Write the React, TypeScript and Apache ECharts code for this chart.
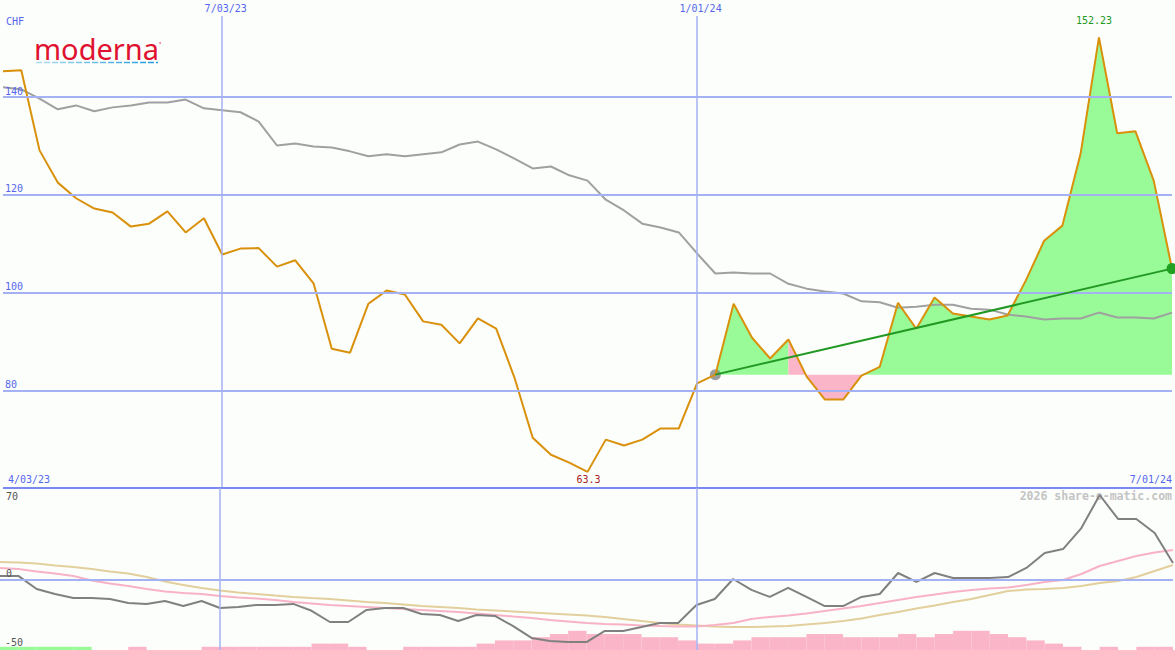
import React, { useEffect, useRef } from "react";
import * as echarts from "echarts";

// ---------- data (weekly points, index 0..64) ----------
const startDate = "4/03/23";
const endDate = "7/01/24";
const dateTickIndex = [12, 38];
const dateTickLabels = ["7/03/23", "1/01/24"];
const priceTicks = [80, 100, 120, 140];
const currency = "CHF";
const trendStart = 39;

const closes = [
  145.3, 145.5, 129.1, 122.5, 119.3, 117.2, 116.4, 113.5, 114.1, 116.6,
  112.3, 115.2, 107.8, 109.0, 109.1, 105.3, 106.6, 101.9, 88.5, 87.7,
  97.7, 100.4, 99.6, 94.1, 93.4, 89.6, 94.7, 92.6, 82.6, 70.3,
  66.8, 65.2, 63.3, 69.9, 68.7, 69.9, 72.2, 72.2, 81.4, 83.2,
  97.7, 90.8, 86.5, 90.4, 82.8, 78.1, 78.1, 83.0, 84.8, 97.9,
  92.6, 99.0, 95.7, 95.1, 94.5, 95.3, 102.5, 110.6, 113.7, 128.5,
  152.23, 132.6, 133.0, 122.9, 104.9,
];

const benchmark = [
  142.0, 141.6, 139.7, 137.5, 138.3, 137.1, 137.9, 138.3, 138.9, 138.9,
  139.5, 137.7, 137.3, 136.9, 135.0, 130.1, 130.5, 129.9, 129.7, 128.9,
  127.9, 128.3, 127.9, 128.3, 128.7, 130.3, 130.9, 129.3, 127.4, 125.4,
  125.8, 124.0, 122.9, 119.0, 116.8, 114.1, 113.3, 112.3, 108.0, 103.9,
  104.1, 103.9, 103.9, 101.8, 100.8, 100.2, 99.8, 98.2, 98.0, 96.9,
  97.1, 97.5, 97.5, 96.7, 96.5, 95.5, 95.1, 94.5, 94.7, 94.7,
  95.9, 94.9, 94.9, 94.7, 95.9,
];

const oscillator = [
  2.9, 2.9, -6.4, -10, -12.9, -12.9, -13.6, -16.4, -17.1, -15,
  -18.6, -15, -20, -19.3, -17.9, -17.9, -17.1, -22, -30, -30,
  -21.4, -20, -20, -24.3, -25, -29.3, -25, -25.7, -32.9, -41.4,
  -43.6, -44.3, -44.3, -36.4, -36.4, -33.6, -30.7, -30.7, -17.9, -13.6,
  0.7, -7.1, -12.1, -5.7, -12.1, -18.6, -18.6, -12.1, -10, 5,
  -1.4, 5, 1.4, 1.4, 1.4, 2.1, 8.6, 19.3, 22.1, 37.1,
  60.7, 43.6, 43.6, 33.6, 12.1,
];

const oscFast = [
  8.6, 7.9, 6.1, 4.6, 2.9, -0.4, -2.5, -4.3, -6.4, -8.2,
  -9.3, -10, -11.4, -12.5, -13.2, -14.3, -15.7, -16.8, -17.9, -18.6,
  -19.3, -20, -20.7, -21.4, -22.1, -22.9, -23.9, -25, -26.1, -27.1,
  -28.6, -29.6, -30.7, -31.4, -31.8, -32.5, -32.9, -33.2, -33.2, -32.1,
  -30.7, -27.9, -26.4, -25.4, -23.9, -22.1, -20.4, -18.6, -16.4, -14.3,
  -12.1, -10.4, -8.6, -7.1, -6.1, -5.4, -3.6, -1.4, 0, 4.3,
  10, 13.6, 17.1, 19.6, 21.4,
];

const oscSlow = [
  12.9, 12.5, 11.8, 10.4, 9.3, 7.9, 6.1, 4.6, 2.1, -1.1,
  -3.6, -5.7, -7.5, -8.9, -10, -11.1, -12.1, -12.9, -13.6, -14.6,
  -15.7, -16.4, -17.5, -18.6, -19.3, -20, -21.1, -21.8, -22.5, -23.2,
  -23.9, -24.6, -25.4, -26.4, -27.9, -29.3, -30.7, -31.8, -32.5, -33.2,
  -33.6, -33.6, -33.2, -32.9, -31.8, -30.7, -29.3, -27.5, -25, -22.9,
  -20.4, -18.2, -15.7, -13.6, -10.7, -7.9, -6.8, -6.4, -5.7, -4.3,
  -2.1, -0.7, 2.1, 6.4, 10.7,
];

const volumeLevel = [
  1, 1, 1, 1, 1, 0, 0, 1, 0, 0,
  0, 1, 1, 1, 1, 1, 1, 2, 2, 1,
  0, 0, 1, 1, 1, 1, 2, 3, 3, 4,
  5, 6, 5, 5, 5, 4, 4, 3, 2, 2,
  3, 4, 4, 4, 5, 5, 4, 4, 4, 5,
  4, 5, 6, 6, 5, 4, 3, 2, 1, 0,
  1, 0, 1, 1, 0,
];
const volumeUp = [1, 1, 1, 1, 1];

const oscTickLabels = ["70", "-50"];
const watermark = "2026 share-o-matic.com";
const logoText = "moderna";

// ---------- styling ----------
const FONT = '"DejaVu Sans Mono", monospace';
const BLUE_TXT = "#5566ee";
const GRIDC = "#a4b2f4";
const BORDER = "#7a8af0";
const GREEN_FILL = "#98fb98";
const PINK_FILL = "#fab5c8";

export default function App() {
  const ref = useRef<HTMLDivElement>(null);

  useEffect(() => {
    if (!ref.current) return;
    const chart = echarts.init(ref.current, undefined, { renderer: "svg" });
    const last = closes.length - 1;
    const base = closes[trendStart];
    const segUp = (j: number) => closes[j] >= base;
    const greenData = closes.map((v, i) => {
      if (i < trendStart) return [i, null];
      const on = (i > trendStart && segUp(i)) || (i < last && segUp(i + 1));
      return on ? [i, v] : [i, null];
    });
    const pinkData = closes.map((v, i) => {
      if (i < trendStart) return [i, null];
      const on = (i > trendStart && !segUp(i)) || (i < last && !segUp(i + 1));
      return on ? [i, v] : [i, null];
    });
    const xy = (arr: number[]) => arr.map((v, i) => [i, v]);

    const txt = (text: string, x: number, y: number, fill: string, align = "left", extra: any = {}) => ({
      type: "text",
      x,
      y,
      silent: true,
      style: { text, fill, fontFamily: FONT, fontSize: 10, align, verticalAlign: "middle", ...extra },
    });

    const option: any = {
      animation: false,
      backgroundColor: "#fcfefc",
      grid: [
        { left: 0, right: 2, top: 16, height: 472 },
        { left: 0, right: 2, top: 488, height: 162 },
        { left: 0, right: 2, top: 618, height: 32 },
      ],
      xAxis: [
        {
          gridIndex: 0,
          type: "value",
          min: 0,
          max: last,
          interval: 1,
          position: "top",
          axisLine: { show: false },
          axisTick: { show: false },
          splitLine: { show: false },
          axisLabel: {
            formatter: (v: number) => {
              const k = dateTickIndex.indexOf(v);
              return k >= 0 ? dateTickLabels[k] : "";
            },
            color: BLUE_TXT,
            fontFamily: FONT,
            fontSize: 10,
            margin: 3,
            padding: [0, 0, 0, 7],
          },
        },
        { gridIndex: 1, type: "value", min: 0, max: last, show: false },
        { gridIndex: 2, type: "value", min: 0, max: last, show: false },
      ],
      yAxis: [
        { gridIndex: 0, type: "value", min: 60, max: 156.6, show: false },
        { gridIndex: 1, type: "value", min: -50, max: 65.7, show: false },
        { gridIndex: 2, type: "value", min: 0, max: 10, show: false },
      ],
      series: [
        // main grid lines
        {
          type: "line",
          xAxisIndex: 0,
          yAxisIndex: 0,
          data: xy(closes),
          symbol: "none",
          lineStyle: { opacity: 0 },
          z: 1,
          silent: true,
          markLine: {
            silent: true,
            symbol: ["none", "none"],
            data: [
              ...priceTicks.map((v) => ({ yAxis: v })),
              ...dateTickIndex.map((i) => ({ xAxis: i, lineStyle: { width: 1.5 }, label: { show: false } })),
              { yAxis: 60, lineStyle: { color: BORDER, width: 2 }, label: { show: false } },
            ],
            lineStyle: { color: GRIDC, width: 2, type: "solid" },
            label: {
              position: "insideStartTop",
              formatter: "{c}",
              color: BLUE_TXT,
              fontFamily: FONT,
              fontSize: 10,
              distance: [2, 1],
            },
          },
        },
        // lower grid lines
        {
          type: "line",
          xAxisIndex: 1,
          yAxisIndex: 1,
          data: xy(oscillator),
          symbol: "none",
          lineStyle: { opacity: 0 },
          z: 1,
          silent: true,
          markLine: {
            silent: true,
            symbol: ["none", "none"],
            data: [
              { yAxis: 0 },
              ...dateTickIndex.map((i) => ({ xAxis: i, lineStyle: { width: 1.5 }, label: { show: false } })),
            ],
            lineStyle: { color: GRIDC, width: 2, type: "solid" },
            label: {
              position: "insideStartTop",
              formatter: "{c}",
              color: "#555555",
              fontFamily: FONT,
              fontSize: 10,
              distance: [6, 1],
            },
          },
        },
        // volume bars
        {
          type: "custom",
          xAxisIndex: 2,
          yAxisIndex: 2,
          z: 2,
          silent: true,
          data: volumeLevel.map((v, i) => [i, v, volumeUp[i] ? 1 : 0]),
          renderItem: (params: any, api: any) => {
            const i = api.value(0);
            const h = api.value(1);
            if (!h) return null;
            const p0 = api.coord([i, h]);
            const p1 = api.coord([i + 1, 0]);
            return {
              type: "rect",
              shape: { x: p0[0], y: p0[1], width: p1[0] - p0[0], height: p1[1] - p0[1] },
              style: { fill: api.value(2) ? GREEN_FILL : PINK_FILL },
            };
          },
        },
        // green / pink areas relative to trend start
        {
          type: "line",
          xAxisIndex: 0,
          yAxisIndex: 0,
          data: greenData,
          symbol: "none",
          z: 2,
          silent: true,
          lineStyle: { width: 0, opacity: 0 },
          areaStyle: { color: GREEN_FILL, opacity: 1, origin: base },
        },
        {
          type: "line",
          xAxisIndex: 0,
          yAxisIndex: 0,
          data: pinkData,
          symbol: "none",
          z: 2,
          silent: true,
          lineStyle: { width: 0, opacity: 0 },
          areaStyle: { color: PINK_FILL, opacity: 1, origin: base },
        },
        // benchmark
        {
          type: "line",
          xAxisIndex: 0,
          yAxisIndex: 0,
          data: xy(benchmark),
          symbol: "none",
          z: 3,
          lineStyle: { color: "#a0a0a0", width: 2 },
        },
        // trend start marker (under price)
        {
          type: "scatter",
          xAxisIndex: 0,
          yAxisIndex: 0,
          data: [[trendStart, closes[trendStart]]],
          symbolSize: 11,
          z: 3,
          itemStyle: { color: "#858585" },
        },
        // price
        {
          type: "line",
          xAxisIndex: 0,
          yAxisIndex: 0,
          data: xy(closes),
          symbol: "none",
          z: 4,
          lineStyle: { color: "#d9900a", width: 2 },
          markPoint: {
            symbol: "circle",
            symbolSize: 0,
            silent: true,
            label: {
              show: true,
              position: "inside",
              formatter: (p: any) => String(Array.isArray(p.value) ? p.value[1] : p.value),
              fontFamily: FONT,
              fontSize: 10,
            },
            data: [
              { type: "max", label: { color: "#229922", offset: [-5, -17] } },
              { type: "min", label: { color: "#aa2222", offset: [1, 8] } },
            ],
          },
        },
        // trend line
        {
          type: "line",
          xAxisIndex: 0,
          yAxisIndex: 0,
          data: [
            { value: [trendStart, closes[trendStart]], symbolSize: 0 },
            { value: [last, closes[last]], itemStyle: { color: "#22a022" } },
          ],
          symbol: "circle",
          symbolSize: 11,
          showAllSymbol: true,
          z: 5,
          lineStyle: { color: "#229922", width: 2 },
          itemStyle: { color: "#22a022" },
        },
        // oscillator panel
        {
          type: "line",
          xAxisIndex: 1,
          yAxisIndex: 1,
          data: xy(oscSlow),
          symbol: "none",
          z: 3,
          lineStyle: { color: "#e2cf9c", width: 2 },
        },
        {
          type: "line",
          xAxisIndex: 1,
          yAxisIndex: 1,
          data: xy(oscFast),
          symbol: "none",
          z: 3,
          lineStyle: { color: "#f8b2c6", width: 2 },
        },
        {
          type: "line",
          xAxisIndex: 1,
          yAxisIndex: 1,
          data: xy(oscillator),
          symbol: "none",
          z: 4,
          lineStyle: { color: "#808080", width: 2 },
        },
      ],
      graphic: [
        txt(currency, 6, 21, BLUE_TXT),
        txt(startDate, 8, 479, BLUE_TXT),
        txt(endDate, 1172, 479, BLUE_TXT, "right"),
        txt(oscTickLabels[0], 6, 496, "#555555"),
        txt(oscTickLabels[1], 5, 642, "#555555"),
        txt(watermark, 1172, 496, "#c4c4c4", "right", { fontSize: 11.5, fontWeight: "bold" }),
        {
          type: "text",
          x: 34,
          y: 48,
          silent: true,
          style: {
            text: logoText,
            fill: "#e0102f",
            fontFamily: '"Noto Sans", sans-serif',
            fontSize: 29,
            align: "left",
            verticalAlign: "middle",
          },
        },
        {
          type: "circle",
          silent: true,
          shape: { cx: 160, cy: 43, r: 1 },
          style: { fill: "#f08898" },
        },
        {
          type: "line",
          silent: true,
          shape: { x1: 36, y1: 62.5, x2: 158, y2: 62.5 },
          style: {
            stroke: new echarts.graphic.LinearGradient(36, 0, 158, 0, [
              { offset: 0, color: "#b0dcf2" },
              { offset: 1, color: "#1e9be0" },
            ], true),
            lineWidth: 1.5,
            lineDash: [6, 2],
          },
        },
      ],
    };

    chart.setOption(option);
    return () => chart.dispose();
  }, []);

  return (
    <div
      ref={ref}
      style={{ position: "absolute", left: 0, top: 0, width: 1175, height: 650 }}
    />
  );
}
